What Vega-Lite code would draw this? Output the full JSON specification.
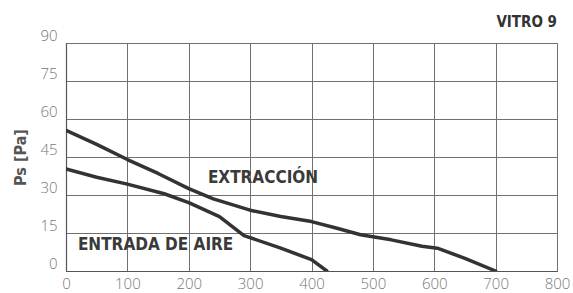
{
  "$schema": "https://vega.github.io/schema/vega-lite/v6.json",
  "width": 491,
  "height": 228,
  "autosize": {"type": "none"},
  "padding": {"left": 66, "top": 43, "right": 16, "bottom": 22},
  "background": "white",
  "title": {
    "text": "VITRO 9",
    "anchor": "end",
    "frame": "group",
    "font": "DejaVu Sans Condensed, Roboto, sans-serif",
    "fontSize": 15,
    "fontWeight": "bold",
    "color": "#333333",
    "offset": -2
  },
  "datasets": {
    "curves": [
      {"serie": "EXTRACCIÓN", "q": 0, "ps": 55.5},
      {"serie": "EXTRACCIÓN", "q": 50, "ps": 50},
      {"serie": "EXTRACCIÓN", "q": 100, "ps": 44},
      {"serie": "EXTRACCIÓN", "q": 150, "ps": 38.5},
      {"serie": "EXTRACCIÓN", "q": 200, "ps": 32.5},
      {"serie": "EXTRACCIÓN", "q": 240, "ps": 28.5},
      {"serie": "EXTRACCIÓN", "q": 300, "ps": 24},
      {"serie": "EXTRACCIÓN", "q": 350, "ps": 21.5},
      {"serie": "EXTRACCIÓN", "q": 400, "ps": 19.5},
      {"serie": "EXTRACCIÓN", "q": 440, "ps": 17},
      {"serie": "EXTRACCIÓN", "q": 480, "ps": 14.3},
      {"serie": "EXTRACCIÓN", "q": 530, "ps": 12.3},
      {"serie": "EXTRACCIÓN", "q": 580, "ps": 9.8},
      {"serie": "EXTRACCIÓN", "q": 605, "ps": 9},
      {"serie": "EXTRACCIÓN", "q": 650, "ps": 5},
      {"serie": "EXTRACCIÓN", "q": 700, "ps": 0},
      {"serie": "ENTRADA DE AIRE", "q": 0, "ps": 40.3},
      {"serie": "ENTRADA DE AIRE", "q": 50, "ps": 37},
      {"serie": "ENTRADA DE AIRE", "q": 100, "ps": 34.3},
      {"serie": "ENTRADA DE AIRE", "q": 160, "ps": 30.5},
      {"serie": "ENTRADA DE AIRE", "q": 200, "ps": 27},
      {"serie": "ENTRADA DE AIRE", "q": 250, "ps": 21.5},
      {"serie": "ENTRADA DE AIRE", "q": 290, "ps": 14},
      {"serie": "ENTRADA DE AIRE", "q": 350, "ps": 9},
      {"serie": "ENTRADA DE AIRE", "q": 400, "ps": 4.5},
      {"serie": "ENTRADA DE AIRE", "q": 425, "ps": 0}
    ],
    "labels": [
      {"text": "EXTRACCIÓN", "q": 321, "ps": 36.8},
      {"text": "ENTRADA DE AIRE", "q": 146, "ps": 10.3}
    ]
  },
  "layer": [
    {
      "data": {"name": "curves"},
      "mark": {"type": "line", "color": "#333333", "strokeWidth": 3.5, "strokeCap": "round", "strokeJoin": "round", "clip": true},
      "encoding": {
        "x": {
          "field": "q", "type": "quantitative",
          "scale": {"domain": [0, 800], "nice": false},
          "axis": {
            "values": [0, 100, 200, 300, 400, 500, 600, 700, 800],
            "tickCount": 20,
            "title": null,
            "grid": true, "gridColor": "#707070", "gridOpacity": 1, "gridWidth": 1,
            "domainColor": "#555555", "domainWidth": 1.2,
            "ticks": false,
            "labelFont": "Open Sans", "labelFontWeight": 300, "labelFontSize": 15, "labelColor": "#777777",
            "labelPadding": 5, "labelFlush": false, "labelOverlap": false
          }
        },
        "y": {
          "field": "ps", "type": "quantitative",
          "scale": {"domain": [0, 90], "nice": false},
          "axis": {
            "values": [0, 15, 30, 45, 60, 75, 90],
            "tickCount": 20,
            "title": "Ps [Pa]",
            "titleFont": "DejaVu Sans Condensed, Open Sans, sans-serif", "titleFontSize": 16, "titleFontWeight": "bold", "titleColor": "#555555",
            "titlePadding": 11,
            "grid": true, "gridColor": "#707070", "gridOpacity": 1, "gridWidth": 1,
            "domainColor": "#555555", "domainWidth": 1.2,
            "ticks": false,
            "labelFont": "Open Sans", "labelFontWeight": 300, "labelFontSize": 15, "labelColor": "#777777",
            "labelPadding": 9, "labelFlush": false, "labelOverlap": false, "labelBaseline": "bottom"
          }
        },
        "detail": {"field": "serie", "type": "nominal"}
      }
    },
    {
      "data": {"name": "labels"},
      "mark": {"type": "text", "font": "DejaVu Sans Condensed, Roboto, sans-serif", "fontSize": 17, "fontWeight": "bold", "color": "#3a3a3a", "align": "center", "baseline": "middle"},
      "encoding": {
        "x": {"field": "q", "type": "quantitative"},
        "y": {"field": "ps", "type": "quantitative"},
        "text": {"field": "text", "type": "nominal"}
      }
    }
  ],
  "config": {
    "view": {"stroke": "#707070", "strokeWidth": 1}
  }
}
